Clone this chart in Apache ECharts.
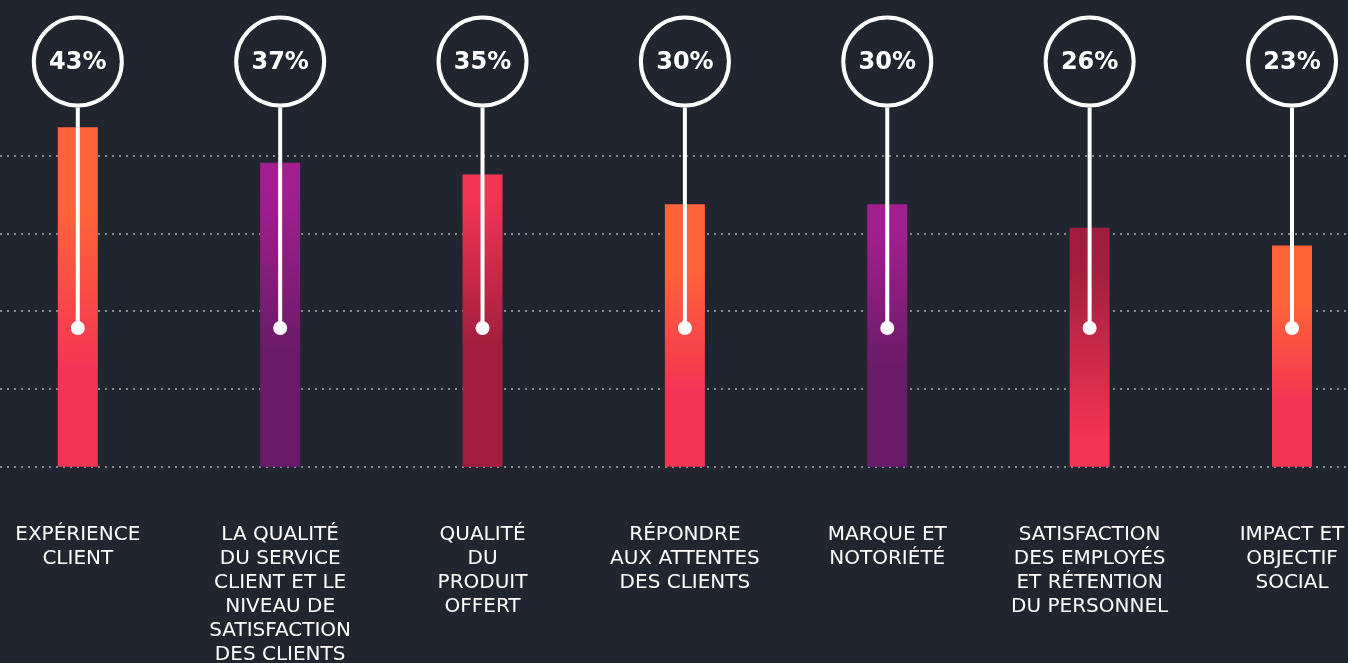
<!DOCTYPE html>
<html lang="fr">
<head>
<meta charset="utf-8">
<title>Priorités</title>
<script src="https://cdn.jsdelivr.net/npm/echarts@6/dist/echarts.min.js"></script>
<style>
  html, body { margin: 0; padding: 0; background: #20252f; }
  #chart { width: 1348px; height: 663px; }
</style>
</head>
<body>
<div id="chart"></div>
<script>
// Categories (line breaks as set in the layout)
const categories = [
  'EXPÉRIENCE\nCLIENT',
  'LA QUALITÉ\nDU SERVICE\nCLIENT ET LE\nNIVEAU DE\nSATISFACTION\nDES CLIENTS',
  'QUALITÉ\nDU\nPRODUIT\nOFFERT',
  'RÉPONDRE\nAUX ATTENTES\nDES CLIENTS',
  'MARQUE ET\nNOTORIÉTÉ',
  'SATISFACTION\nDES EMPLOYÉS\nET RÉTENTION\nDU PERSONNEL',
  'IMPACT ET\nOBJECTIF\nSOCIAL'
];

// Share of respondents, in percent
const values = [43, 37, 35, 30, 30, 26, 23];

// Colour scheme used by each bar
const barSchemes = ['orange', 'magenta', 'red', 'orange', 'magenta', 'redUp', 'orange'];

// Background guide lines (five dotted rules)
const guideTicks = [0, 1, 2, 3, 4];

// Value scale of the bars: columns rise from the floor of this range
const VALUE_MIN = -14.4;
const VALUE_MAX = 38.2;

const gradients = {
  orange: [[0, '#ff6339'], [0.25, '#ff6339'], [0.72, '#f23455'], [1, '#f23455']],
  magenta: [[0, '#a31f8f'], [0.12, '#a01f8e'], [0.62, '#6a1b68'], [1, '#6a1b68']],
  red: [[0, '#f23455'], [0.08, '#f23455'], [0.58, '#a31e3e'], [1, '#a31e3e']],
  redUp: [[0, '#a01c3c'], [0.18, '#a31e3e'], [0.88, '#f23455'], [1, '#f23455']]
};

function makeGradient(name) {
  return new echarts.graphic.LinearGradient(0, 0, 0, 1,
    gradients[name].map(s => ({ offset: s[0], color: s[1] })));
}

const chart = echarts.init(document.getElementById('chart'), null, { renderer: 'canvas' });

const FONT_LABEL = '"DejaVu Sans", "Open Sans", sans-serif';
const BAR_WIDTH = 40;

chart.setOption({
  backgroundColor: '#20252f',
  animation: false,
  grid: [
    { left: 0, right: 0, top: 155.5, bottom: 196.5, outerBoundsMode: 'none', containLabel: false },
    { left: 77.8, right: 56, top: 155.7, bottom: 196.3, outerBoundsMode: 'none', containLabel: false }
  ],
  xAxis: [
    { gridIndex: 0, type: 'value', show: false, min: 0, max: 1 },
    {
      gridIndex: 1,
      type: 'category',
      data: categories,
      boundaryGap: false,
      axisLine: { show: false },
      axisTick: { show: false },
      splitLine: { show: false },
      axisLabel: {
        interval: 0,
        margin: 56,
        color: '#ffffff',
        fontFamily: FONT_LABEL,
        fontSize: 20,
        lineHeight: 24,
        align: 'center'
      }
    }
  ],
  yAxis: [
    {
      gridIndex: 0,
      type: 'value',
      min: guideTicks[0],
      max: guideTicks[guideTicks.length - 1],
      interval: 1,
      axisLine: { show: false },
      axisTick: { show: false },
      axisLabel: { show: false },
      splitLine: {
        show: true,
        lineStyle: { color: '#858a94', width: 2, type: [2, 5] }
      }
    },
    {
      gridIndex: 1,
      type: 'value',
      min: VALUE_MIN,
      max: VALUE_MAX,
      show: false,
      splitLine: { show: false }
    }
  ],
  series: [
    {
      // Columns, from the floor of the value range up to each value
      type: 'custom',
      xAxisIndex: 1,
      yAxisIndex: 1,
      clip: false,
      z: 2,
      data: values.map((v, i) => [i, v]),
      renderItem: function (params, api) {
        const idx = api.value(0);
        const top = api.coord([idx, api.value(1)]);
        const base = api.coord([idx, VALUE_MIN]);
        return {
          type: 'rect',
          shape: {
            x: top[0] - BAR_WIDTH / 2,
            y: top[1],
            width: BAR_WIDTH,
            height: base[1] - top[1]
          },
          style: { fill: makeGradient(barSchemes[params.dataIndex]) }
        };
      }
    },
    {
      // Pins: ringed percentage badge, stem and end dot for each category
      type: 'custom',
      xAxisIndex: 1,
      yAxisIndex: 1,
      clip: false,
      z: 5,
      data: values.map((v, i) => [i, v]),
      renderItem: function (params, api) {
        const x = api.coord([api.value(0), 0])[0];
        const cy = 61.5;
        const r = 44;
        const dotY = 328;
        return {
          type: 'group',
          children: [
            {
              type: 'line',
              shape: { x1: x, y1: cy + r + 2, x2: x, y2: dotY },
              style: { stroke: '#ffffff', lineWidth: 4 }
            },
            {
              type: 'circle',
              shape: { cx: x, cy: dotY, r: 7 },
              style: { fill: '#ffffff' }
            },
            {
              type: 'circle',
              shape: { cx: x, cy: cy, r: r },
              style: { fill: 'transparent', stroke: '#ffffff', lineWidth: 4 }
            },
            {
              type: 'text',
              style: {
                x: x,
                y: cy + 1,
                text: api.value(1) + '%',
                fill: '#ffffff',
                font: 'bold 24px "DejaVu Sans", sans-serif',
                align: 'center',
                verticalAlign: 'middle'
              }
            }
          ]
        };
      }
    }
  ]
});
</script>
</body>
</html>
